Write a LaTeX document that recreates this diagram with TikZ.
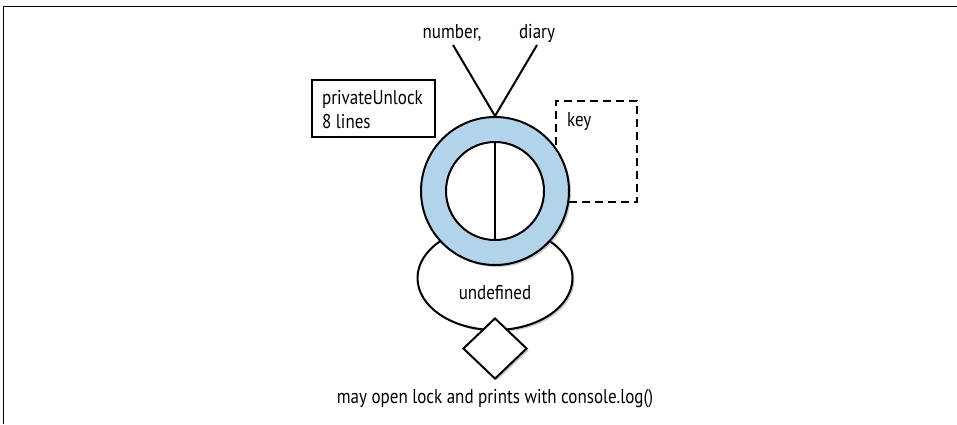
\documentclass[tikz,border=0pt]{standalone}
\usepackage{fontspec}
\setmainfont{PT Sans}[FakeStretch=0.85]
\usetikzlibrary{shapes.geometric,shadows}
\definecolor{ringblue}{RGB}{178,212,234}
\begin{document}
\begin{tikzpicture}[x=1pt,y=-1pt,
  every node/.style={font=\fontsize{20}{24}\selectfont},
  frameline/.style={line width=1pt,black},
  thick line/.style={line width=2pt,black},
  shade/.style={drop shadow={opacity=0.35,shadow xshift=2pt,shadow yshift=-2pt,fill=black!60}},
  label text/.style={inner sep=0pt}]
\useasboundingbox (0,0) rectangle (957,424);
\draw[frameline] (3,424) -- (3,6) -- (957,6);
% labels on top
\node[label text] (num) at (452,33) {number,};
\node[label text] (dia) at (537,33) {diary};
\coordinate (numend) at (453,45);
\coordinate (diaend) at (537,45);
% dashed key box (behind ring)
\node[draw,dashed,dash pattern=on 8pt off 5pt,line width=2pt,minimum width=81pt,minimum height=101pt,inner sep=0pt] (keybox) at (596.5,151.5) {};
\node[label text,anchor=north west] (key) at (567,112) {key};
% ellipse (behind ring)
\node[draw,ellipse,thick line,fill=white,shade,minimum width=155pt,minimum height=104pt,inner sep=0pt] (undef) at (495,278) {};
\node[label text] (undeftxt) at (495,293) {undefined};
% ring
\node[draw,circle,thick line,fill=ringblue,shade,minimum size=148pt,inner sep=0pt] (ring) at (495,191) {};
\node[draw,circle,thick line,fill=white,minimum size=98pt,inner sep=0pt] (inner) at (495,191) {};
\draw[thick line] (inner.north) -- (inner.south);
% connectors to apex
\draw[thick line] (numend) -- (ring.north);
\draw[thick line] (diaend) -- (ring.north);
% privateUnlock box
\node[draw,thick line,fill=white,minimum width=123pt,minimum height=57pt,inner sep=0pt] (pbox) at (373.5,108.5) {};
\node[label text,anchor=west,align=left] (ptxt) at (322,110) {privateUnlock\\8 lines};
% diamond
\node[draw,diamond,thick line,fill=white,shade,minimum width=64pt,minimum height=61pt,inner sep=0pt] (dia2) at (495,348.5) {};
\node[label text] (bottom) at (495,399) {may open lock and prints with console.log()};
\end{tikzpicture}
\end{document}
